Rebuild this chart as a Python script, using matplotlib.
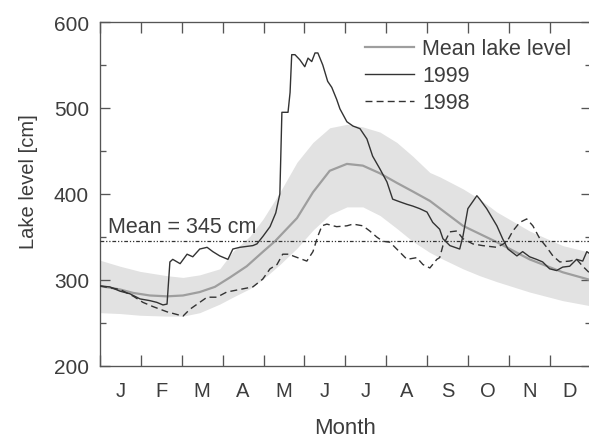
import matplotlib
matplotlib.use("Agg")
import matplotlib.pyplot as plt
from matplotlib.ticker import MultipleLocator, FixedLocator, NullFormatter

plt.rcParams['font.family'] = ['Liberation Sans', 'DejaVu Sans']

# ---- data (x in months since 1 Jan, y in cm) ----
month_labels = ['J', 'F', 'M', 'A', 'M', 'J', 'J', 'A', 'S', 'O', 'N', 'D']

mean_x = [0.00, 0.49, 0.81, 1.22, 1.64, 2.03, 2.44, 2.81, 3.18, 3.59, 3.99, 4.28,
          4.82, 5.21, 5.62, 6.04, 6.43, 6.85, 7.26, 7.65, 8.07, 8.88, 9.71, 10.51,
          11.32, 12.00]
mean_y = [293, 289, 285, 282, 281, 282, 286, 292, 303, 316, 333, 345,
          372, 402, 427, 435, 433, 424, 413, 403, 392, 363, 344, 324,
          309, 300]

band_x = [0.00, 0.49, 0.98, 1.64, 2.03, 2.44, 2.93, 3.25, 3.67, 3.99, 4.40, 4.82,
          5.21, 5.62, 6.04, 6.43, 6.85, 7.26, 7.65, 8.07, 8.31, 8.88, 9.29, 9.71,
          10.51, 11.32, 12.00]
band_lo = [262, 261, 259, 258, 258, 262, 272, 280, 290, 301, 318, 337,
           358, 376, 385, 385, 375, 360, 345, 332, 326, 313, 305, 298,
           286, 276, 270]
band_hi = [323, 316, 310, 305, 303, 306, 313, 333, 351, 371, 402, 437,
           460, 477, 481, 478, 472, 460, 444, 425, 420, 406, 394, 379,
           357, 340, 332]

y1999_x = [0.00, 0.24, 0.49, 0.73, 0.98, 1.22, 1.39, 1.54, 1.64, 1.71, 1.78, 1.96,
           2.13, 2.27, 2.44, 2.62, 2.76, 2.93, 3.13, 3.25, 3.42, 3.74, 3.84, 3.99,
           4.16, 4.30, 4.40, 4.45, 4.60, 4.65, 4.69, 4.77, 4.89, 5.01, 5.09, 5.18,
           5.26, 5.33, 5.45, 5.57, 5.67, 5.79, 5.87, 6.04, 6.19, 6.36, 6.53, 6.67,
           6.85, 7.02, 7.16, 7.33, 7.51, 7.65, 7.82, 8.00, 8.14, 8.31, 8.39, 8.56,
           8.80, 8.88, 9.00, 9.22, 9.29, 9.46, 9.71, 9.85, 9.98, 10.20, 10.34, 10.51,
           10.68, 10.83, 11.00, 11.17, 11.32, 11.49, 11.66, 11.81, 11.91, 12.00]
y1999_y = [293, 292, 287, 284, 278, 276, 274, 271, 272, 321, 324, 319,
           330, 327, 336, 338, 333, 328, 324, 336, 338, 340, 342, 351,
           362, 378, 400, 495, 495, 518, 562, 562, 556, 548, 558, 554,
           564, 564, 550, 531, 524, 510, 499, 484, 479, 476, 464, 444,
           429, 414, 394, 391, 388, 386, 383, 379, 367, 359, 348, 340,
           336, 351, 383, 398, 394, 383, 363, 348, 336, 328, 333, 327,
           324, 321, 313, 311, 315, 316, 324, 322, 333, 330]

y1998_x = [0.00, 0.49, 0.82, 1.05, 1.30, 1.64, 2.03, 2.20, 2.44, 2.62, 2.86, 3.10,
           3.42, 3.74, 3.98, 4.16, 4.33, 4.47, 4.65, 4.72, 5.06, 5.21, 5.33, 5.43,
           5.55, 5.79, 6.04, 6.19, 6.43, 6.60, 6.77, 6.92, 7.09, 7.26, 7.51, 7.75,
           7.90, 8.07, 8.24, 8.31, 8.39, 8.56, 8.73, 8.88, 9.12, 9.36, 9.71, 9.95,
           10.10, 10.27, 10.44, 10.59, 10.76, 10.93, 11.08, 11.25, 11.49, 11.66, 11.81, 11.96]
y1998_y = [293, 289, 281, 274, 269, 263, 258, 266, 274, 280, 280, 286,
           289, 292, 301, 313, 318, 330, 330, 328, 322, 333, 351, 363,
           365, 362, 363, 365, 363, 357, 350, 345, 344, 336, 324, 326,
           318, 314, 324, 326, 340, 356, 357, 348, 342, 340, 338, 344,
           357, 367, 371, 363, 348, 338, 328, 321, 322, 324, 316, 309]

overall_mean = 345

# ---- figure ----
fig = plt.figure(figsize=(5.89, 4.39), dpi=100)
ax = fig.add_axes([100 / 589, 72 / 439, 490.5 / 589, 344 / 439])

dark = '#333333'
txt = '#3d3d3d'
ax.fill_between(band_x, band_lo, band_hi, color='#e2e2e2', linewidth=0, zorder=1)
l_mean, = ax.plot(mean_x, mean_y, color='#9e9e9e', lw=1.6, zorder=2,
                  label='Mean lake level')
l99, = ax.plot(y1999_x, y1999_y, color=dark, lw=1.0, zorder=4, label='1999')
l98, = ax.plot(y1998_x, y1998_y, color=dark, lw=1.0, zorder=3,
               linestyle=(0, (5, 3)), label='1998')
ax.axhline(overall_mean, color=dark, lw=0.9, linestyle=(0, (3, 1.5, 1, 1.5, 1, 1.5)),
           zorder=3)
ax.text(0.2, overall_mean + 11, 'Mean = 345 cm', fontsize=15.5, color=txt,
        va='baseline', ha='left')

ax.set_xlim(0, 12)
ax.set_ylim(200, 600)

ax.xaxis.set_major_locator(FixedLocator(list(range(13))))
ax.xaxis.set_major_formatter(NullFormatter())
ax.xaxis.set_minor_locator(FixedLocator([i + 0.5 for i in range(12)]))
ax.set_xticklabels(month_labels, minor=True)
ax.tick_params(axis='x', which='major', direction='in', length=8, width=0.95,
               top=True, color='#555555')
ax.tick_params(axis='x', which='minor', length=0, pad=11, labelsize=14.5,
               labelcolor=txt)

ax.yaxis.set_major_locator(MultipleLocator(100))
ax.yaxis.set_minor_locator(MultipleLocator(50))
ax.tick_params(axis='y', which='major', direction='in', length=7.5, width=0.95,
               right=True, pad=8, labelsize=15, labelcolor=txt, color='#555555')
ax.tick_params(axis='y', which='minor', direction='in', length=4, width=0.95,
               right=True, color='#555555')

for s in ax.spines.values():
    s.set_color('#555555')
    s.set_linewidth(0.95)

ax.set_xlabel('Month', fontsize=16, color=txt)
ax.xaxis.set_label_coords(0.5, -0.148)
ax.set_ylabel('Lake level [cm]', fontsize=14.5, color=txt)
ax.yaxis.set_label_coords(-0.127, 0.54)

leg = ax.legend(handles=[l_mean, l99, l98], loc='upper left',
                bbox_to_anchor=(0.54, 0.953), borderaxespad=0, borderpad=0,
                frameon=False, fontsize=15.5, handlelength=2.3,
                handletextpad=0.37, labelspacing=0.28)
for t in leg.get_texts():
    t.set_color(txt)

fig.savefig('out.png', dpi=100)
